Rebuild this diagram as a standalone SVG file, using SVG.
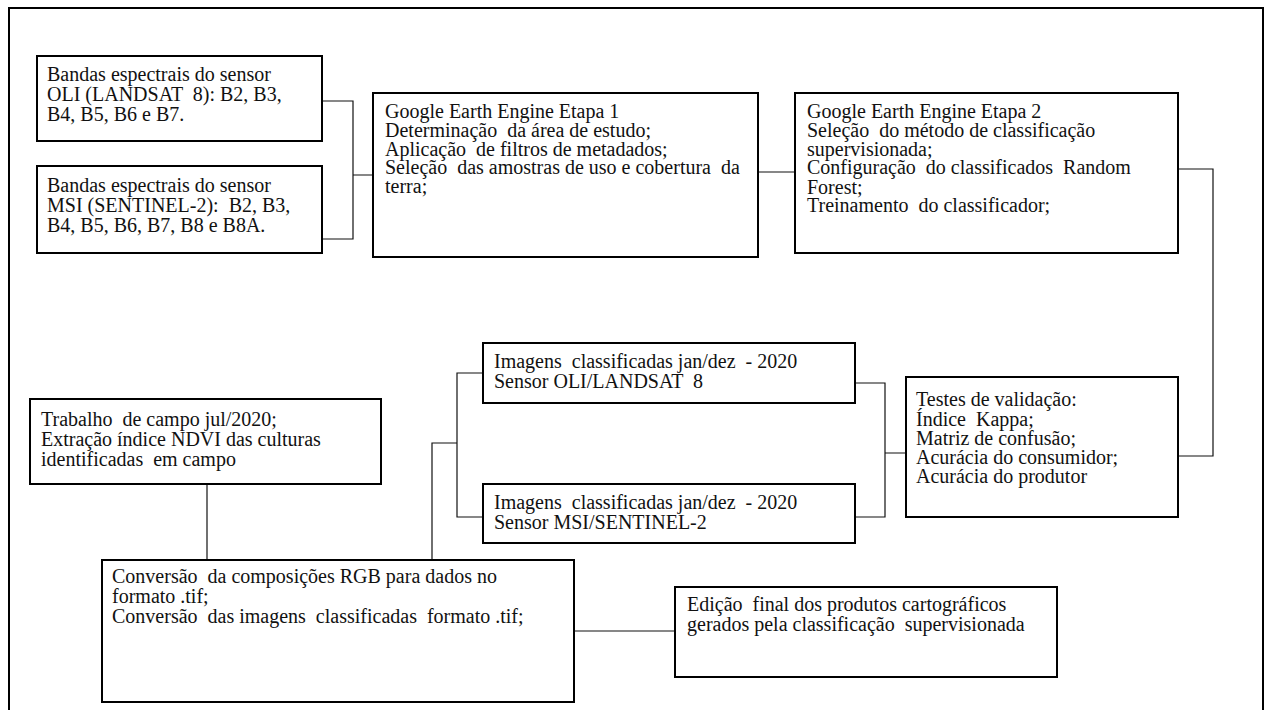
<svg xmlns="http://www.w3.org/2000/svg" width="1266" height="710" viewBox="0 0 1266 710" xml:space="preserve">
<style>
.box{fill:#fff;stroke:#000;stroke-width:2}
.frame{fill:none;stroke:#000;stroke-width:2}
.con{fill:none;stroke:#111;stroke-width:1.2}
text{font-family:"Liberation Serif","Times New Roman",serif;font-size:20px;fill:#111;white-space:pre}
</style>
<rect width="1266" height="710" fill="#fff"/>
<path class="frame" d="M9,711 V8 H1263 V711"/>
<g id="connectors">
<path class="con" d="M322,101 H353 V239 H322 M353,175 H373"/>
<path class="con" d="M758,172 H795"/>
<path class="con" d="M1178,169 H1213 V456 H1178"/>
<path class="con" d="M855,383 H885 V517 H855 M885,453 H906"/>
<path class="con" d="M483,373 H457 V517 H483 M457,443 H432 V560"/>
<path class="con" d="M207,484 V560"/>
<path class="con" d="M574,631 H675"/>
</g>
<g id="oli-bands">
<rect class="box" x="37" y="56" width="285" height="85"/>
<text x="47" y="81">Bandas espectrais do sensor</text>
<text x="47" y="101">OLI (LANDSAT  8): B2, B3,</text>
<text x="47" y="121">B4, B5, B6 e B7.</text>
</g>
<g id="msi-bands">
<rect class="box" x="37" y="166" width="285" height="87"/>
<text x="47" y="192">Bandas espectrais do sensor</text>
<text x="47" y="212">MSI (SENTINEL-2):  B2, B3,</text>
<text x="47" y="232">B4, B5, B6, B7, B8 e B8A.</text>
</g>
<g id="gee-1">
<rect class="box" x="373" y="93" width="385" height="164"/>
<text x="385" y="118">Google Earth Engine Etapa 1</text>
<text x="385" y="137">Determinação  da área de estudo;</text>
<text x="385" y="156">Aplicação  de filtros de metadados;</text>
<text x="385" y="174">Seleção  das amostras de uso e cobertura  da</text>
<text x="385" y="193">terra;</text>
</g>
<g id="gee-2">
<rect class="box" x="795" y="93" width="383" height="160"/>
<text x="807" y="118">Google Earth Engine Etapa 2</text>
<text x="807" y="137">Seleção  do método de classificação</text>
<text x="807" y="156">supervisionada;</text>
<text x="807" y="174">Configuração  do classificados  Random</text>
<text x="807" y="194">Forest;</text>
<text x="807" y="212">Treinamento  do classificador;</text>
</g>
<g id="validation">
<rect class="box" x="906" y="377" width="272" height="140"/>
<text x="916" y="406">Testes de validação:</text>
<text x="916" y="426">Índice  Kappa;</text>
<text x="916" y="445">Matriz de confusão;</text>
<text x="916" y="464">Acurácia do consumidor;</text>
<text x="916" y="483">Acurácia do produtor</text>
</g>
<g id="img-oli">
<rect class="box" x="483" y="343" width="372" height="60"/>
<text x="494" y="368">Imagens  classificadas jan/dez  - 2020</text>
<text x="494" y="388">Sensor OLI/LANDSAT  8</text>
</g>
<g id="img-msi">
<rect class="box" x="483" y="484" width="372" height="59"/>
<text x="494" y="509">Imagens  classificadas jan/dez  - 2020</text>
<text x="494" y="529">Sensor MSI/SENTINEL-2</text>
</g>
<g id="field">
<rect class="box" x="30" y="399" width="351" height="85"/>
<text x="41" y="426">Trabalho  de campo jul/2020;</text>
<text x="41" y="446">Extração índice NDVI das culturas</text>
<text x="41" y="466">identificadas  em campo</text>
</g>
<g id="conversion">
<rect class="box" x="102" y="560" width="472" height="142"/>
<text x="112" y="583">Conversão  da composições RGB para dados no</text>
<text x="112" y="603">formato .tif;</text>
<text x="112" y="623">Conversão  das imagens  classificadas  formato .tif;</text>
</g>
<g id="final-edit">
<rect class="box" x="675" y="587" width="382" height="90"/>
<text x="687" y="611">Edição  final dos produtos cartográficos</text>
<text x="687" y="631">gerados pela classificação  supervisionada</text>
</g>
</svg>
